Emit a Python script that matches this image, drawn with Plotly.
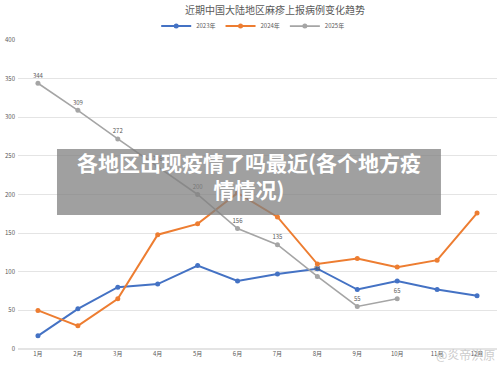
import plotly.graph_objects as go

months = ["1月", "2月", "3月", "4月", "5月", "6月", "7月", "8月", "9月", "10月", "11月", "12月"]
s2023 = [17, 52, 80, 84, 108, 88, 97, 104, 77, 88, 77, 69]
s2024 = [50, 30, 65, 148, 162, 202, 171, 110, 117, 106, 115, 176]
months_2025 = months[:10]
s2025 = [344, 309, 272, 236, 200, 156, 135, 94, 55, 65]
y_ticks = [0, 50, 100, 150, 200, 250, 300, 350, 400]

title_text = "近期中国大陆地区麻疹上报病例变化趋势"
banner_text = "各地区出现疫情了吗最近(各个地方疫<br>情情况)"
watermark = "@炎帝洪原"

font = "Noto Sans CJK SC"

fig = go.Figure()
fig.add_trace(go.Scatter(x=months, y=s2023, name="2023年", mode="lines+markers",
                         line=dict(color="#4472C4", width=2), marker=dict(size=5, color="#4472C4")))
fig.add_trace(go.Scatter(x=months, y=s2024, name="2024年", mode="lines+markers",
                         line=dict(color="#ED7D31", width=2), marker=dict(size=5, color="#ED7D31")))
fig.add_trace(go.Scatter(x=months_2025, y=s2025, name="2025年", mode="lines+markers+text",
                         text=[str(v) for v in s2025], textposition="top center",
                         textfont=dict(size=6, color="#595959", family=font),
                         line=dict(color="#A5A5A5", width=1.6), marker=dict(size=5, color="#A5A5A5")))

fig.update_layout(
    width=500, height=366,
    margin=dict(l=18, r=3, t=40, b=17),
    paper_bgcolor="white", plot_bgcolor="white",
    font=dict(family=font, color="#595959"),
    title=dict(text=title_text, x=0.55, xanchor="center", y=0.972, yanchor="middle",
               font=dict(size=10, color="#595959", family=font)),
    legend=dict(orientation="h", x=0.49, xanchor="center", y=1.045, yanchor="middle",
                font=dict(size=6, color="#595959"), itemwidth=30, tracegroupgap=0),
    showlegend=True,
)
fig.update_xaxes(type="category", showgrid=False, showline=False, ticks="",
                 tickfont=dict(size=6, color="#595959"), range=[-0.5, 11.5])
fig.update_yaxes(range=[0, 400], tickvals=y_ticks, showgrid=True, gridcolor="#E4E4E4",
                 gridwidth=1, zeroline=True, zerolinecolor="#E4E4E4", showline=False,
                 tickfont=dict(size=6, color="#595959"), ticklabelstandoff=2)

# banner overlay
fig.add_shape(type="rect", xref="paper", yref="paper", x0=0.0814, x1=0.883, y0=0.434, y1=0.647,
              fillcolor="rgba(128,128,128,0.75)", line=dict(width=0), layer="above")
fig.add_annotation(xref="paper", yref="paper", x=0.482, y=0.56, text=banner_text, showarrow=False,
                   font=dict(size=21, color="white", family=font, weight="bold"),
                   align="center", xanchor="center", yanchor="middle")
fig.add_annotation(xref="paper", yref="paper", x=1.0, y=-0.018, text=watermark, showarrow=False,
                   font=dict(size=12, color="rgba(190,190,190,0.8)", family=font),
                   xanchor="right", yanchor="middle")

fig.write_html("out.html")
